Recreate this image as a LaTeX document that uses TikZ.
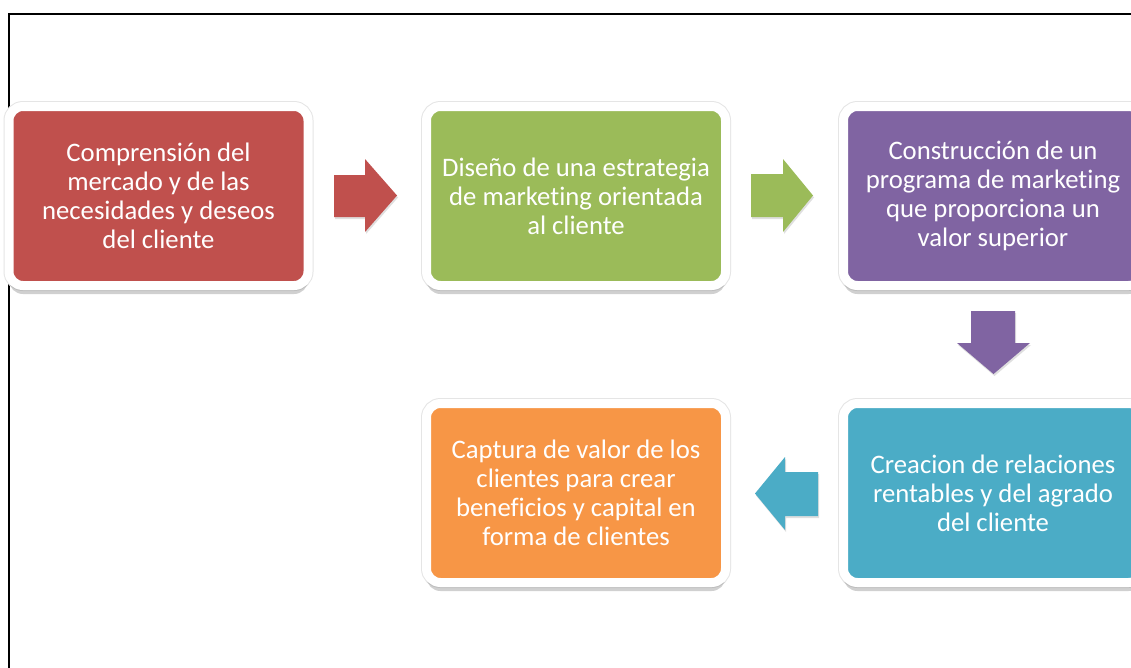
\documentclass[tikz,border=0pt]{standalone}
\usepackage{fontspec}
\setmainfont{Carlito}[Ligatures={NoCommon}]
\usetikzlibrary{shadows}
\definecolor{cred}{HTML}{C0504D}
\definecolor{cgreen}{HTML}{9BBB59}
\definecolor{cpurple}{HTML}{8064A2}
\definecolor{cteal}{HTML}{4BACC6}
\definecolor{corange}{HTML}{F79646}
\tikzset{
  stepbox/.style={rectangle, rounded corners=14pt, draw=white, line width=9pt,
    minimum width=299pt, minimum height=179pt, inner sep=0pt,
    text=white, align=center, font=\fontsize{26.7}{29}\selectfont,
    preaction={draw=black!10, line width=11pt},
    drop shadow={opacity=0.3, fill=black!60, shadow xshift=0pt, shadow yshift=-8.5pt}},
  arrowshade/.style={drop shadow={opacity=0.25, shadow xshift=1pt, shadow yshift=-2pt}}
}
\begin{document}
\begin{tikzpicture}[x=1pt,y=-1pt]
\useasboundingbox (0,0) rectangle (1131,667);
\clip (0,0) rectangle (1131,667);
\fill[white] (0,0) rectangle (1131,667);
% frame
\draw[line width=2pt, black] (1131,14) -- (9,14) -- (9,670);
% boxes
\node[stepbox, fill=cred] (b1) at (158.5,196) {Comprensión del\\mercado y de las\\necesidades y deseos\\del cliente};
\node[stepbox, fill=cgreen] (b2) at (576,196) {Diseño de una estrategia\\de marketing orientada\\al cliente};
\node[stepbox, fill=cpurple] (b3) at (993,196) {Construcción de un\\programa de marketing\\que proporciona un\\valor superior};
\node[stepbox, fill=cteal] (b4) at (993,493) {Creacion de relaciones\\rentables y del agrado\\del cliente};
\node[stepbox, fill=corange] (b5) at (576,493) {Captura de valor de los\\clientes para crear\\beneficios y capital en\\forma de clientes};
% block arrows
\fill[cred, arrowshade]
  (334,175) -- (365,175) -- (365,159) -- (397,195.5) -- (365,232) -- (365,217) -- (334,217) -- cycle;
\fill[cgreen, arrowshade]
  (751,174) -- (783,174) -- (783,159) -- (813,195.5) -- (783,232) -- (783,217) -- (751,217) -- cycle;
\fill[cpurple, arrowshade]
  (971,311) -- (1015,311) -- (1015,343) -- (1030,343) -- (993.5,374) -- (957,343) -- (971,343) -- cycle;
\fill[cteal, arrowshade]
  (818,472) -- (785,472) -- (785,457) -- (755,493.5) -- (785,530) -- (785,516) -- (818,516) -- cycle;
\end{tikzpicture}
\end{document}
